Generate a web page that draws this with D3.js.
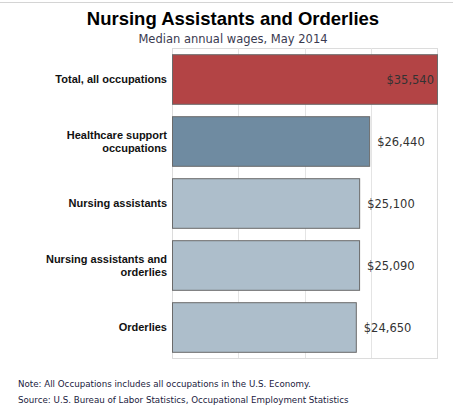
<!DOCTYPE html>
<html>
<head>
<meta charset="utf-8">
<script src="https://cdn.jsdelivr.net/npm/d3@7"></script>
<style>
	body { margin: 0; background: #fff; }
	svg { display: block; }
</style>
</head>
<body>
<svg id="chart"></svg>
<script>
// DATA

var categories = [
	["Total, all occupations"],
	["Healthcare support", "occupations"],
	["Nursing assistants"],
	["Nursing assistants and", "orderlies"],
	["Orderlies"]
];
var wages = [35540, 26440, 25100, 25090, 24650];
var barColors = ["#b34445", "#6f8ba1", "#adbecb", "#adbecb", "#adbecb"];
var gridSteps = [1, 2, 3];

// DIMENSIONS

var width = 453,
	height = 411,
	plotLeft = 172,
	plotRight = 437,
	plotTop = 48,
	plotBottom = 358;

var svg = d3.select("#chart")
	.attr('width', width)
	.attr('height', height);

svg.append('line')
	.attr('x1', 0).attr('x2', width)
	.attr('y1', 2.5).attr('y2', 2.5)
	.style('stroke', '#d4d4d4');

svg.append('text')
	.attr('x', 233).attr('y', 25)
	.attr('text-anchor', 'middle')
	.style('font', 'bold 18.5px "Liberation Sans", Arial, sans-serif')
	.style('fill', '#000')
	.text("Nursing Assistants and Orderlies");

svg.append('text')
	.attr('x', 233).attr('y', 43)
	.attr('text-anchor', 'middle')
	.style('font', '11.5px "DejaVu Sans", sans-serif')
	.style('fill', '#3a3a50')
	.text("Median annual wages, May 2014");

// SCALES

var xScale = d3.scaleLinear()
	.domain([0, d3.max(wages)])
	.range([plotLeft, plotRight]);

var yScale = d3.scaleBand()
	.domain(d3.range(wages.length))
	.range([plotTop, plotBottom])
	.paddingInner(0.2)
	.paddingOuter(0.1);

// grid + frame

svg.append('rect')
	.attr('x', plotLeft + 0.5).attr('y', plotTop + 0.5)
	.attr('width', plotRight - plotLeft).attr('height', plotBottom - plotTop)
	.style('fill', 'none')
	.style('stroke', '#dcdcdc');

svg.selectAll('line.grid').data(gridSteps)
	.enter().append('line')
	.attr('class', 'grid')
	.attr('x1', function(d) { return Math.round(xScale(d3.max(wages) * d / 4)) + 0.5; })
	.attr('x2', function(d) { return Math.round(xScale(d3.max(wages) * d / 4)) + 0.5; })
	.attr('y1', plotTop).attr('y2', plotBottom)
	.style('stroke', '#e4e4e4');

// BARS

svg.selectAll('rect.bar').data(wages)
	.enter().append('rect')
	.attr('class', 'bar')
	.attr('x', xScale(0) + 0.5)
	.attr('y', function(d, i) { return yScale(i) + 0.5; })
	.attr('width', function(d) { return xScale(d) - xScale(0); })
	.attr('height', yScale.bandwidth())
	.style('fill', function(d, i) { return barColors[i]; })
	.style('stroke', '#6a6a6a');

// value labels

svg.selectAll('text.value').data(wages)
	.enter().append('text')
	.attr('class', 'value')
	.attr('x', function(d, i) { return i == 0 ? xScale(d) - 3 : xScale(d) + 8; })
	.attr('y', function(d, i) { return yScale(i) + yScale.bandwidth() / 2 + 4.5; })
	.attr('text-anchor', function(d, i) { return i == 0 ? 'end' : 'start'; })
	.style('font', '11.5px "DejaVu Sans", sans-serif')
	.style('fill', '#333')
	.text(function(d) { return "$" + d3.format(",")(d); });

// category labels

var cats = svg.selectAll('text.cat').data(categories)
	.enter().append('text')
	.attr('class', 'cat')
	.attr('text-anchor', 'end')
	.style('font', 'bold 11px "Liberation Sans", Arial, sans-serif')
	.style('fill', '#111');

cats.selectAll('tspan').data(function(d, i) {
		return d.map(function(s, j) { return { s: s, j: j, n: d.length, i: i }; });
	})
	.enter().append('tspan')
	.attr('x', 167)
	.attr('y', function(d) {
		return yScale(d.i) + yScale.bandwidth() / 2 + 4 + (d.j - (d.n - 1) / 2) * 13;
	})
	.text(function(d) { return d.s; });

// notes

var notes = [
	"Note: All Occupations includes all occupations in the U.S. Economy.",
	"Source: U.S. Bureau of Labor Statistics, Occupational Employment Statistics"
];

svg.selectAll('text.note').data(notes)
	.enter().append('text')
	.attr('class', 'note')
	.attr('x', 18)
	.attr('y', function(d, i) { return 387 + i * 16; })
	.style('font', '8.7px "DejaVu Sans", sans-serif')
	.style('fill', '#1a1a40')
	.text(function(d) { return d; });
</script>
</body>
</html>
